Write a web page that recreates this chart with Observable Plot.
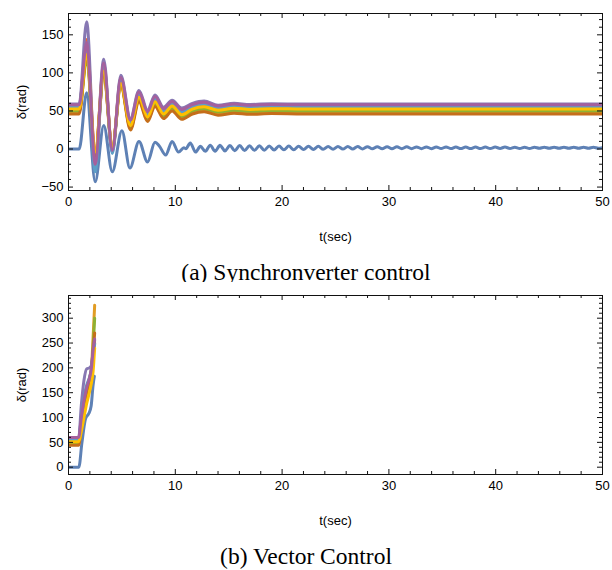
<!DOCTYPE html>
<html><head><meta charset="utf-8">
<script src="https://cdn.jsdelivr.net/npm/d3@7"></script>
<script src="https://cdn.jsdelivr.net/npm/@observablehq/plot@0.6"></script>
<style>
body{margin:0;background:#fff;}
#wrap{position:relative;width:612px;height:570px;overflow:hidden;}
.cap{position:absolute;left:0;width:612px;text-align:center;font-family:"Liberation Serif","Times New Roman",serif;font-size:23.5px;color:#000;line-height:26px;}
</style></head><body>
<div id="wrap">
<div id="p1" style="position:absolute;left:0;top:0"></div>
<div class="cap" style="top:259px">(a) Synchronverter control</div>
<div id="p2" style="position:absolute;left:0;top:282px"></div>
<div class="cap" style="top:543px">(b) Vector Control</div>
</div>
<script>
// ---- series identity ----
const seriesNames = ["s1","s2","s3","s4","s5","s6","s7","s8","s9"];
const seriesColors = ["#5E81B5","#E19C24","#8FB032","#EB6235","#8778B3","#C56E1A","#5D9EC7","#FFBF00","#A5609D"];

// ---- ticks ----
const xMajor = [0,10,20,30,40,50];
const xMinor = [2,4,6,8,12,14,16,18,22,24,26,28,32,34,36,38,42,44,46,48];
const yMajorA = [-50,0,50,100,150];
const yMinorA = [-40,-30,-20,-10,10,20,30,40,60,70,80,90,110,120,130,140,160,170];
const yMajorB = [0,50,100,150,200,250,300];
const yMinorB = [10,20,30,40,60,70,80,90,110,120,130,140,160,170,180,190,210,220,230,240,260,270,280,290,310,320,330,340];

// ---- (a) Synchronverter control ----
const blueA = [[0,0],[1.0,0],[1.7,74],[2.5,-43],[3.3,31],[4.1,-30],[5.0,24],[5.75,-25],[6.6,10],[7.4,-17],[8.1,9],[8.5,4],[9.1,-8],[9.7,10],[10.3,-4],[10.8,1.5],[11.0,0.5],[11.4,8],[11.9,-4],
[12.35,3.5],[12.81,-3],[13.27,5],[13.73,-2.8],[14.19,4.8],[14.65,-2.5],[15.11,4.6],[15.57,-2.2],[16.03,4.5],[16.49,-2],[16.95,4.3],[17.41,-1.7],[17.87,4.2],[18.33,-1.5],[18.79,4],[19.25,-1.3],[19.71,3.9],[20.17,-1.1],[20.63,3.8],[21.09,-0.9],[21.55,3.7],[22.01,-0.7],[22.47,3.6],[22.93,-0.5],[23.39,3.5],[23.85,-0.4],[24.31,3.4],[24.77,-0.2],[25.23,3.3],[25.69,-0.1],[26.15,3.2],[26.61,0],[27.07,3.2],[27.53,0.1],[27.99,3.1],[28.45,0.2],[28.91,3],[29.37,0.3],[29.83,3],[30.29,0.3],[30.75,2.9],[31.21,0.4],[31.67,2.9],[32.13,0.4],[32.59,2.8],[33.05,0.5],[33.51,2.8],[33.97,0.5],[34.43,2.7],[34.89,0.6],[35.35,2.7],[35.81,0.6],[36.27,2.6],[36.73,0.6],[37.19,2.6],[37.65,0.7],[38.11,2.6],[38.57,0.7],[39.03,2.5],[39.49,0.7],[39.95,2.5],[40.41,0.8],[40.87,2.5],[41.33,0.8],[41.79,2.4],[42.25,0.8],[42.71,2.4],[43.17,0.8],[43.63,2.4],[44.09,0.9],[44.55,2.3],[45.01,0.9],[45.47,2.3],[45.93,0.9],[46.39,2.3],[46.85,0.9],[47.31,2.3],[47.77,1],[48.23,2.2],[48.69,1],[49.15,2.2],[49.61,1],[50,1.8]];

const tA = [0,1.0,1.7,2.5,3.3,4.1,4.9,5.8,6.6,7.4,8.1,8.9,9.7,10.6,11.6,12.7,14.0,15.5,17,19,22,50];
const orangeA  = [48.5,48.5,128,-10,100,0,85,27,64,38,58,42,52.5,41,48.5,51.5,47,49.5,48,49,48.5,48.5];
const greenA   = [50,50,116,-6,98,2,84,29,66,40,60,44,54,43,50,53,48.5,51,49.5,50.5,50,50];
const redA     = [55,55,144,-8,108,0,90,34,71,45,65,49,59,48,55,58,53.5,56,54.5,55.5,55,55];
const purpleA  = [59,59,167,-18,118,-4,97,40,77,51,71,55,64,54,60,63,57.5,60,58.5,59.5,59,59];
const dkorangeA= [46,46,122,-12,97,-2,83,25,62,36,56,40,50,39,46,49,44.5,47,45.5,46.5,46,46];
const ltblueA  = [56,56,138,-30,110,-6,91,35,72,46,66,50,60,49,56,59,54.5,57,55.5,56.5,56,56];
const yellowA  = [52.5,52.5,124,-4,102,3,86,31,68,42,62,46,56.5,45,52.5,55.5,51,53.5,52,53,52.5,52.5];
const magentaA = [58,58,140,-20,113,-2,94,38,75,49,69,53,62.5,52,58.5,61.5,56.5,59,57.5,58.5,58,58];

// ---- (b) Vector Control ----
const blueB = [[0,0],[0.97,0],[1.25,48],[1.6,98],[1.9,108],[2.12,123],[2.3,165],[2.42,183]];
const tB = [0,0.95,1.2,1.45,1.7,1.95,2.15,2.3,2.45];
const orangeB  = [46,46,85,125,155,175,200,260,326];
const greenB   = [48,48,85,125,155,175,195,240,300];
const redB     = [55,55,95,135,160,178,195,225,250];
const purpleB  = [58,58,125,175,198,200,205,230,255];
const dkorangeB= [44,44,82,120,150,170,190,230,270];
const ltblueB  = [56,56,100,140,165,180,198,225,248];
const yellowB  = [51,51,72,100,128,150,170,192,240];
const magentaB = [60,60,100,135,160,178,200,235,258];

function rows(blue, t, others) {
  const out = blue.map(([x, v]) => ({t: x, v, s: "s1"}));
  others.forEach((vals, i) => vals.forEach((v, j) => out.push({t: t[j], v, s: seriesNames[i + 1]})));
  return out;
}
const dataA = rows(blueA, tA, [orangeA, greenA, redA, purpleA, dkorangeA, ltblueA, yellowA, magentaA]);
const dataB = rows(blueB, tB, [orangeB, greenB, redB, purpleB, dkorangeB, ltblueB, yellowB, magentaB]);

const fmt = d => d < 0 ? "\u2212" + Math.abs(d) : String(d);
const ink = "#111";
const MAJ = 5, MIN = 3;
const W = 612, H = 250, ML = 68, MR = 10, MT = 13;

function chart(data, yDomain, yMajor, yMinor, marginBottom) {
  const fh = H - MT - marginBottom, fw = W - ML - MR;
  const tick = {stroke: ink, strokeWidth: 1};
  return Plot.plot({
    width: W, height: H,
    marginTop: MT, marginBottom, marginLeft: ML, marginRight: MR,
    style: {fontFamily: "'Liberation Sans', Arial, sans-serif", fontSize: "13px", color: "#000", background: "#fff"},
    x: {domain: [0, 50]},
    y: {domain: yDomain},
    color: {domain: seriesNames, range: seriesColors},
    marks: [
      Plot.line(data, {x: "t", y: "v", z: "s", stroke: "s", strokeWidth: 3, curve: "monotone-x", clip: true}),
      // inward frame ticks (bottom, top, left, right)
      Plot.ruleX(xMajor, {...tick, insetTop: fh - MAJ}),
      Plot.ruleX(xMinor, {...tick, insetTop: fh - MIN}),
      Plot.ruleX(xMajor, {...tick, insetBottom: fh - MAJ}),
      Plot.ruleX(xMinor, {...tick, insetBottom: fh - MIN}),
      Plot.ruleY(yMajor, {...tick, insetRight: fw - MAJ}),
      Plot.ruleY(yMinor, {...tick, insetRight: fw - MIN}),
      Plot.ruleY(yMajor, {...tick, insetLeft: fw - MAJ}),
      Plot.ruleY(yMinor, {...tick, insetLeft: fw - MIN}),
      Plot.frame({stroke: ink}),
      Plot.axisX(xMajor, {anchor: "bottom", tickSize: 0, tickPadding: 6, tickFormat: fmt, label: "t(sec)", labelAnchor: "center", labelArrow: "none", labelOffset: 50}),
      Plot.axisY(yMajor, {anchor: "left", tickSize: 0, tickPadding: 5, tickFormat: fmt, label: "δ(rad)", labelAnchor: "center", labelArrow: "none", labelOffset: 52})
    ]
  });
}

document.getElementById("p1").appendChild(chart(dataA, [-54.5, 178], yMajorA, yMinorA, 60));
document.getElementById("p2").appendChild(chart(dataB, [-14.7, 345.7], yMajorB, yMinorB, 58));
</script>
</body></html>
